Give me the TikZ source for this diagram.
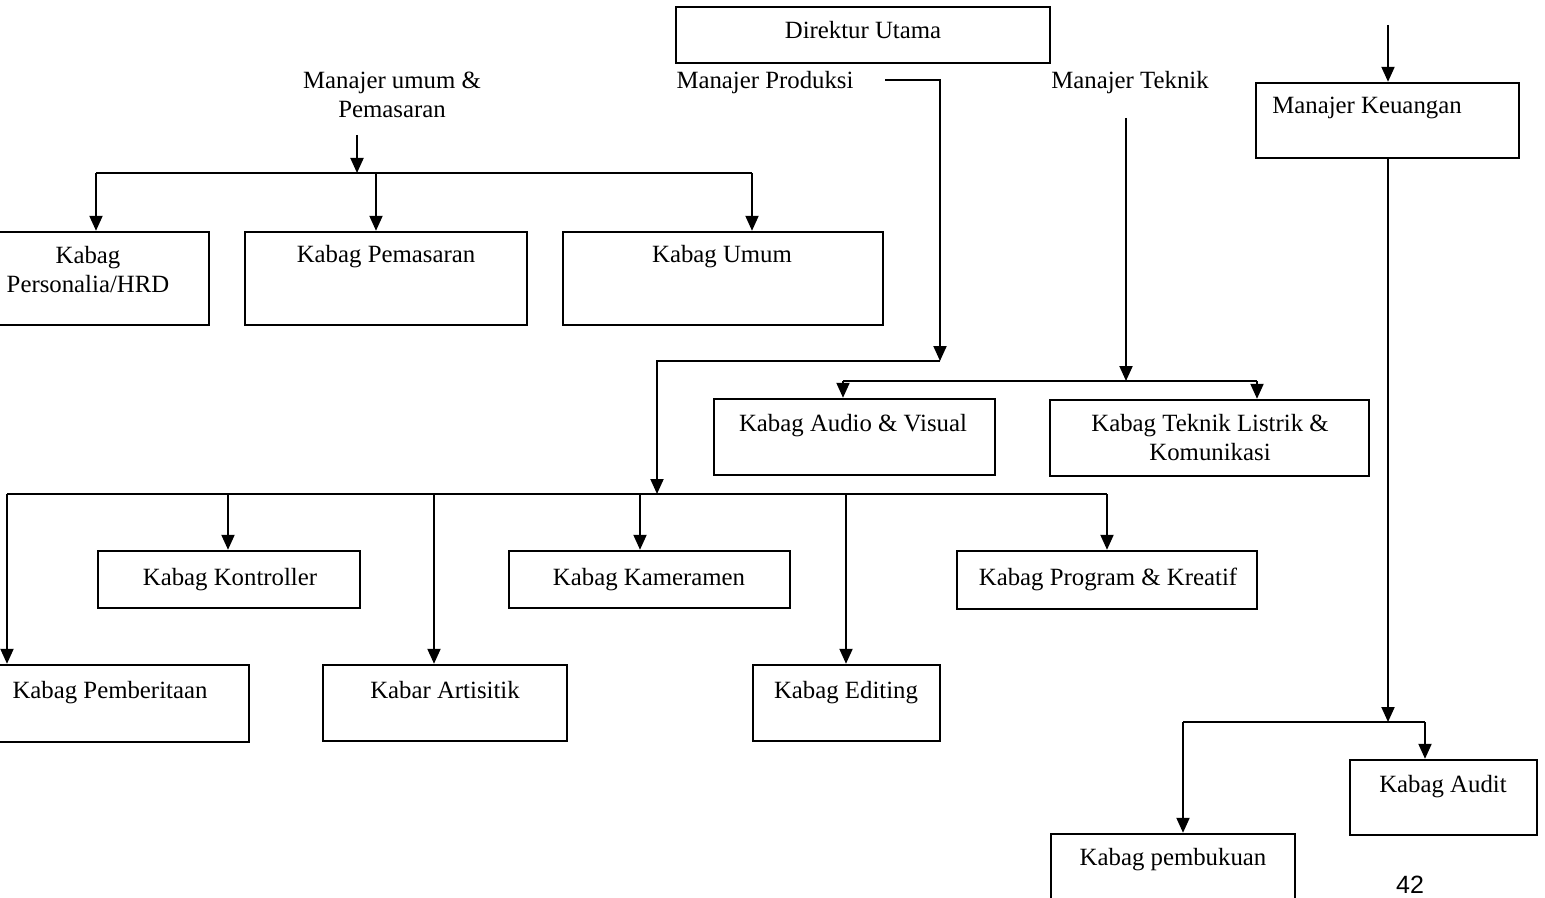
\documentclass[tikz,border=0pt]{standalone}
\usepackage{fontspec}
\setmainfont{Liberation Serif}
\newfontfamily\pgnumfont{Liberation Sans}
\usetikzlibrary{arrows.meta,fit}
\begin{document}
\begin{tikzpicture}[x=0.5pt,y=-0.5pt,
  box/.style={draw,line width=1.2pt,inner sep=0pt},
  txt/.style={font=\fontsize{12.4}{14.5}\selectfont,inner sep=0pt,anchor=base,align=center},
  txtc/.style={txt,anchor=center},
  conn/.style={line width=1pt},
  arr/.style={line width=1pt,-{Triangle[length=7.5pt,width=6.5pt]}}]
\useasboundingbox (0,0) rectangle (1545,898);

% ---------- boxes ----------
\node[box,fit={(676,7) (1050,63)}] (dir) {};
\node[box,fit={(1256,83) (1519,158)}] (keu) {};
\node[box,fit={(-35,232) (209,325)}] (hrd) {};
\node[box,fit={(245,232) (527,325)}] (pem) {};
\node[box,fit={(563,232) (883,325)}] (umum) {};
\node[box,fit={(714,399) (995,475)}] (av) {};
\node[box,fit={(1050,400) (1369,476)}] (tek) {};
\node[box,fit={(98,551) (360,608)}] (kon) {};
\node[box,fit={(509,551) (790,608)}] (kam) {};
\node[box,fit={(957,551) (1257,609)}] (prog) {};
\node[box,fit={(-30,665) (249,742)}] (berita) {};
\node[box,fit={(323,665) (567,741)}] (art) {};
\node[box,fit={(753,665) (940,741)}] (edit) {};
\node[box,fit={(1350,760) (1537,835)}] (audit) {};
\node[box,fit={(1051,834) (1295,930)}] (buku) {};

% ---------- texts ----------
\node[txt] (tdir) at (863,39) {Direktur Utama};
\node[txt] (mprod) at (765,89) {Manajer Produksi};
\node[txtc] (mum) at (392,95) {Manajer umum \&\\Pemasaran};
\node[txt] (mtek) at (1130,89) {Manajer Teknik};
\node[txt] (tkeu) at (1367,114) {Manajer Keuangan};
\node[txtc] (thrd) at (88,270) {Kabag\\Personalia/HRD};
\node[txt] (tpem) at (386,263) {Kabag Pemasaran};
\node[txt] (tumum) at (722,263) {Kabag Umum};
\node[txt] (tav) at (853,431) {Kabag Audio \& Visual};
\node[txtc] (ttek) at (1210,438) {Kabag Teknik Listrik \&\\Komunikasi};
\node[txt] (tkon) at (230,585) {Kabag Kontroller};
\node[txt] (tkam) at (649,585) {Kabag Kameramen};
\node[txt] (tprog) at (1108,585) {Kabag Program \& Kreatif};
\node[txt] (tberita) at (110,698) {Kabag Pemberitaan};
\node[txt] (tart) at (445,698) {Kabar Artisitik};
\node[txt] (tedit) at (846,698) {Kabag Editing};
\node[txt] (taudit) at (1443,792) {Kabag Audit};
\node[txt] (tbuku) at (1173,865) {Kabag pembukuan};
\node[inner sep=0pt,anchor=base,font=\pgnumfont\fontsize{12.5}{15}\selectfont] (pg) at (1410,893) {42};

% ---------- junction coordinates ----------
\coordinate (mumA) at (357,135);
\coordinate (busA) at (357,173);
\coordinate (busAl) at (96,173);
\coordinate (busAr) at (752,173);
\coordinate (busAm) at (376,173);
\coordinate (prodA) at (885,80);
\coordinate (prodB) at (940,361);
\coordinate (busB) at (657,494);
\coordinate (busBl) at (7,494);
\coordinate (busBr) at (1107,494);
\coordinate (tekA) at (1126,118);
\coordinate (tekB) at (1126,381);
\coordinate (busCl) at (843,381);
\coordinate (busCr) at (1257,381);
\coordinate (keuA) at (1388,25);
\coordinate (keuB) at (1388,722);
\coordinate (busDl) at (1183,722);
\coordinate (busDr) at (1425,722);

% ---------- Manajer umum & Pemasaran ----------
\draw[arr] (mumA) -- (busA);
\draw[conn] (busAl) -- (busAr);
\draw[arr] (busAl) -- (busAl |- hrd.north);
\draw[arr] (busAm) -- (busAm |- pem.north);
\draw[arr] (busAr) -- (busAr |- umum.north);

% ---------- Manajer Produksi ----------
\draw[arr] (prodA) -| (prodB);
\draw[arr] (prodB) -| (busB);
\draw[conn] (busBl) -- (busBr);
\draw[arr] (busBl) -- (busBl |- berita.north);
\draw[arr] (228,494) -- (228,551 |- kon.north);
\draw[arr] (434,494) -- (434,665 |- art.north);
\draw[arr] (640,494) -- (640,551 |- kam.north);
\draw[arr] (846,494) -- (846,665 |- edit.north);
\draw[arr] (busBr) -- (busBr |- prog.north);

% ---------- Manajer Teknik ----------
\draw[arr] (tekA) -- (tekB);
\draw[conn] (busCl) -- (busCr);
\draw[arr] (busCl) -- (busCl |- av.north);
\draw[arr] (busCr) -- (busCr |- tek.north);

% ---------- Manajer Keuangan ----------
\draw[arr] (keuA) -- (keuA |- keu.north);
\draw[arr] (keuA |- keu.south) -- (keuB);
\draw[conn] (busDl) -- (busDr);
\draw[arr] (busDr) -- (busDr |- audit.north);
\draw[arr] (busDl) -- (busDl |- buku.north);
\end{tikzpicture}
\end{document}
